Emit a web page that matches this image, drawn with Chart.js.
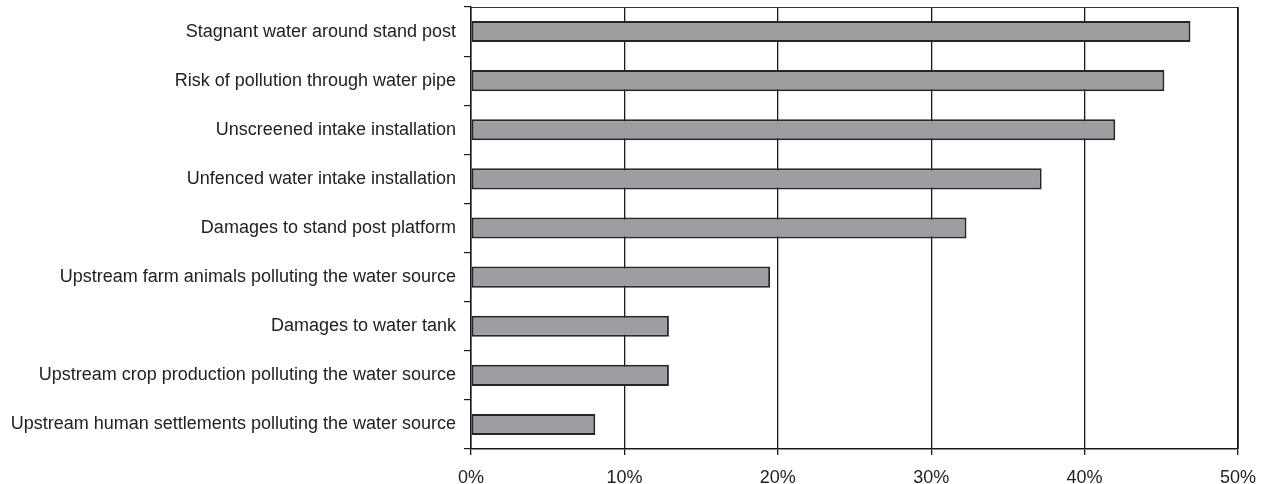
<!DOCTYPE html>
<html>
<head>
<meta charset="utf-8">
<script src="https://cdn.jsdelivr.net/npm/chart.js@4/dist/chart.umd.min.js"></script>
<style>
html,body{margin:0;padding:0;background:#fff;}
#wrap{position:relative;width:1272px;height:484px;}
</style>
</head>
<body>
<div id="wrap"><canvas id="c" width="1272" height="484"></canvas></div>
<script>
const categories = [
  "Stagnant water around stand post",
  "Risk of pollution through water pipe",
  "Unscreened intake installation",
  "Unfenced water intake installation",
  "Damages to stand post platform",
  "Upstream farm animals polluting the water source",
  "Damages to water tank",
  "Upstream crop production polluting the water source",
  "Upstream human settlements polluting the water source"
];
const percentValues = [46.9, 45.2, 42.0, 37.2, 32.3, 19.5, 12.9, 12.9, 8.1];
const xTickValues = [0, 10, 20, 30, 40, 50];
const xTickLabels = ["0%", "10%", "20%", "30%", "40%", "50%"];

const frame = {
  id: 'frame',
  afterDatasetsDraw(chart) {
    const a = chart.chartArea, ctx = chart.ctx;
    ctx.save();
    ctx.strokeStyle = '#333';
    ctx.lineWidth = 1.2;
    ctx.beginPath();
    ctx.moveTo(a.left, a.top + 0.5);
    ctx.lineTo(a.right, a.top + 0.5);
    ctx.stroke();
    ctx.strokeStyle = '#1a1a1a';
    ctx.lineWidth = 1.5;
    ctx.beginPath();
    ctx.moveTo(a.right, a.top);
    ctx.lineTo(a.right, a.bottom);
    ctx.stroke();
    ctx.restore();
  }
};

new Chart(document.getElementById('c'), {
  type: 'bar',
  data: {
    labels: categories,
    datasets: [{
      data: percentValues,
      backgroundColor: '#9d9ea2',
      borderColor: '#262626',
      borderWidth: 2,
      borderSkipped: false,
      categoryPercentage: 1,
      barPercentage: 0.43
    }]
  },
  options: {
    indexAxis: 'y',
    responsive: false,
    animation: false,
    layout: { padding: { top: 7, right: 34, bottom: 0, left: 0 } },
    plugins: { legend: { display: false }, tooltip: { enabled: false } },
    scales: {
      x: {
        min: 0, max: 50,
        afterBuildTicks(scale) { scale.ticks = xTickValues.map(v => ({ value: v })); },
        afterFit(scale) { scale.height = 35; },
        ticks: {
          callback: (v, i) => xTickLabels[i],
          color: '#222',
          font: { family: 'Liberation Sans, Arial, sans-serif', size: 18 },
          padding: 12,
          maxRotation: 0
        },
        grid: { color: '#1a1a1a', lineWidth: 1.3, tickLength: 6, drawOnChartArea: true },
        border: { display: true, color: '#1a1a1a', width: 1.5 }
      },
      y: {
        afterFit(scale) { scale.width = 471; scale.paddingTop = 0; scale.paddingBottom = 0; },
        ticks: {
          color: '#222',
          font: { family: 'Liberation Sans, Arial, sans-serif', size: 18 },
          padding: 8
        },
        grid: { drawOnChartArea: false, drawTicks: true, tickLength: 7, color: '#1a1a1a', lineWidth: 1.2, offset: true },
        border: { display: true, color: '#1a1a1a', width: 1.5 }
      }
    }
  },
  plugins: [frame]
});
</script>
</body>
</html>
